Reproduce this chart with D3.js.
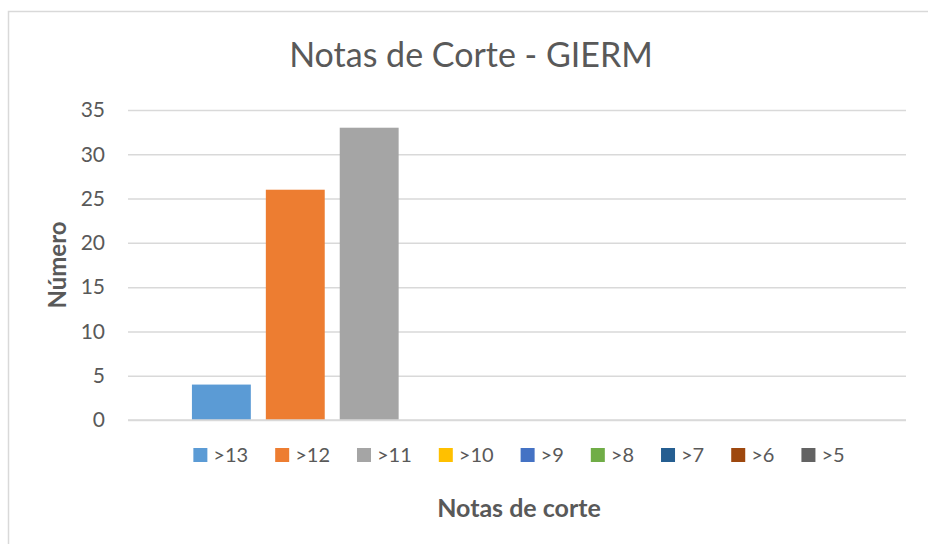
<!DOCTYPE html>
<html>
<head>
<meta charset="utf-8">
<script src="https://cdn.jsdelivr.net/npm/d3@7"></script>
<style>
    body { margin: 0; background: #fff; }
    svg { display: block; font-family: Lato, "Open Sans", sans-serif; }
</style>
</head>
<body>
<svg id="chart" width="928" height="544"></svg>
<script>
// Single category, one series per cut-off grade (as Excel drew it)
const series = ['>13', '>12', '>11', '>10', '>9', '>8', '>7', '>6', '>5'];
const values = [4, 26, 33, 0, 0, 0, 0, 0, 0];
const colors = ['#5b9bd5', '#ed7d31', '#a5a5a5', '#ffc000', '#4472c4', '#70ad47', '#255e91', '#9e480e', '#636363'];
const yTicks = [0, 5, 10, 15, 20, 25, 30, 35];

const textCol = '#595959', gridCol = '#d9d9d9';
const plot = {left: 128, right: 906, top: 110, bottom: 420};

const svg = d3.select('#chart');

// chart frame, runs off the right/bottom edge like the screenshot
svg.append('rect')
    .attr('x', 8.5).attr('y', 11.5)
    .attr('width', 940).attr('height', 560)
    .attr('fill', '#fff').attr('stroke', gridCol).attr('stroke-width', 1.5);

const y = d3.scaleLinear().domain([0, 35]).range([plot.bottom, plot.top]);
const x = d3.scaleBand().domain(series)
    .range([plot.left, plot.right])
    .paddingInner(0.203).paddingOuter(0.865);

// gridlines + tick labels
const yAxis = d3.axisLeft(y).tickValues(yTicks).tickSize(-(plot.right - plot.left)).tickPadding(23);
const gy = svg.append('g').attr('transform', `translate(${plot.left},0)`).call(yAxis);
gy.select('.domain').remove();
gy.selectAll('.tick line').attr('stroke', gridCol).attr('stroke-width', 1.5);
gy.selectAll('.tick text')
    .attr('fill', textCol).attr('font-size', 21).attr('font-family', 'Lato, "Open Sans", sans-serif');

svg.append('g').selectAll('rect')
    .data(series)
    .join('rect')
    .attr('x', d => x(d))
    .attr('width', x.bandwidth())
    .attr('y', (d, i) => y(values[i]))
    .attr('height', (d, i) => y(0) - y(values[i]))
    .attr('fill', (d, i) => colors[i]);

// redraw baseline over bars
svg.append('line')
    .attr('x1', plot.left).attr('x2', plot.right)
    .attr('y1', y(0)).attr('y2', y(0))
    .attr('stroke', gridCol).attr('stroke-width', 1.5);

svg.append('text')
    .attr('x', 471).attr('y', 67)
    .attr('text-anchor', 'middle')
    .attr('font-size', 34).attr('fill', textCol)
    .text('Notas de Corte - GIERM');

svg.append('text')
    .attr('transform', `translate(66,${(plot.top + plot.bottom) / 2}) rotate(-90)`)
    .attr('text-anchor', 'middle')
    .attr('font-size', 24).attr('font-weight', 'bold').attr('fill', textCol)
    .text('Número');

svg.append('text')
    .attr('x', (plot.left + plot.right) / 2 + 2).attr('y', 517)
    .attr('text-anchor', 'middle')
    .attr('font-size', 25).attr('font-weight', 'bold').attr('fill', textCol)
    .text('Notas de corte');

// legend: lay out items by measured label width, then centre under plot
const legend = svg.append('g');
const items = legend.selectAll('g').data(series).join('g');
items.append('rect')
    .attr('y', 448).attr('width', 14).attr('height', 14)
    .attr('fill', (d, i) => colors[i]);
items.append('text')
    .attr('x', 20).attr('y', 462)
    .attr('font-size', 20).attr('fill', textCol)
    .text(d => d);

const gap = 27;
let cx = 0;
items.each(function() {
    const w = this.querySelector('text').getComputedTextLength();
    d3.select(this).attr('transform', `translate(${cx},0)`);
    cx += 20 + w + gap;
});
const total = cx - gap;
legend.attr('transform', `translate(${(plot.left + plot.right) / 2 + 2 - total / 2},0)`);
</script>
</body>
</html>
